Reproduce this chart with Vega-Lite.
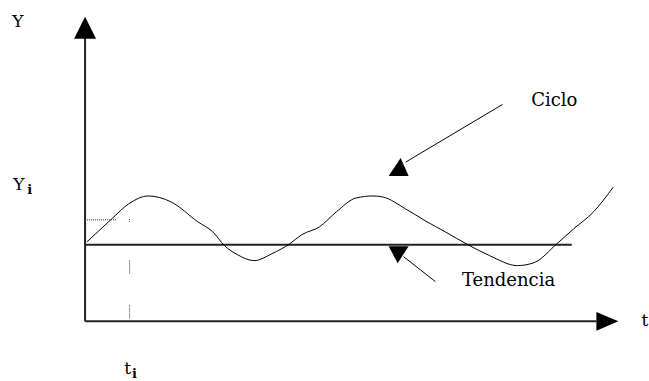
{
  "$schema": "https://vega.github.io/schema/vega-lite/v6.json",
  "width": 649,
  "height": 381,
  "autosize": {"type": "fit", "contains": "padding"},
  "padding": 0,
  "background": "white",
  "config": {"view": {"stroke": null}},
  "encoding": {
    "x": {"field": "t", "type": "quantitative", "scale": {"domain": [-86, 563], "nice": false, "zero": false}, "axis": null},
    "y": {"field": "Y", "type": "quantitative", "scale": {"domain": [-58, 323], "nice": false, "zero": false}, "axis": null}
  },
  "layer": [
    {
      "data": {"values": [
        {"t": 0, "Y": 0, "t2": 0, "Y2": 285},
        {"t": 0, "Y": 0, "t2": 517, "Y2": 0},
        {"t": 0, "Y": 77, "t2": 492, "Y2": 77}
      ]},
      "mark": {"type": "rule", "color": "#222222", "strokeWidth": 2},
      "encoding": {"x2": {"field": "t2"}, "y2": {"field": "Y2"}}
    },
    {
      "data": {"values": [
        {"t": 422, "Y": 218, "t2": 324, "Y2": 160},
        {"t": 354, "Y": 40, "t2": 322, "Y2": 65}
      ]},
      "mark": {"type": "rule", "color": "#000000", "strokeWidth": 1},
      "encoding": {"x2": {"field": "t2"}, "y2": {"field": "Y2"}}
    },
    {
      "data": {"values": [
        {"t": 2, "Y": 102, "t2": 32, "Y2": 102},
        {"t": 45, "Y": 100, "t2": 45, "Y2": 104},
        {"t": 45, "Y": 61, "t2": 45, "Y2": 48},
        {"t": 45, "Y": 16, "t2": 45, "Y2": 3}
      ]},
      "mark": {"type": "rule", "color": "#333333", "strokeWidth": 1, "strokeDash": [1, 1]},
      "encoding": {"x2": {"field": "t2"}, "y2": {"field": "Y2"}}
    },
    {
      "data": {"values": [
        {"t": 2, "Y": 80}, {"t": 14, "Y": 91}, {"t": 27, "Y": 103}, {"t": 44, "Y": 118},
        {"t": 64, "Y": 126}, {"t": 87, "Y": 120}, {"t": 114, "Y": 100}, {"t": 129, "Y": 90},
        {"t": 141, "Y": 76}, {"t": 154, "Y": 67}, {"t": 171, "Y": 61}, {"t": 189, "Y": 68},
        {"t": 207, "Y": 78}, {"t": 219, "Y": 87}, {"t": 237, "Y": 95}, {"t": 254, "Y": 110},
        {"t": 274, "Y": 124}, {"t": 291, "Y": 126}, {"t": 301, "Y": 125}, {"t": 324, "Y": 113},
        {"t": 344, "Y": 101}, {"t": 364, "Y": 90}, {"t": 387, "Y": 77}, {"t": 409, "Y": 66},
        {"t": 437, "Y": 56}, {"t": 454, "Y": 59}, {"t": 477, "Y": 78}, {"t": 494, "Y": 93},
        {"t": 514, "Y": 110}, {"t": 534, "Y": 135}
      ]},
      "mark": {"type": "line", "color": "#000000", "strokeWidth": 1, "interpolate": "monotone"},
      "encoding": {}
    },
    {
      "data": {"values": [{"t": 0, "Y": 295}]},
      "mark": {"type": "point", "shape": "M0,-1L1,1L-1,1Z", "size": 484, "filled": true, "color": "#000000", "opacity": 1},
      "encoding": {}
    },
    {
      "data": {"values": [{"t": 528, "Y": 0}]},
      "mark": {"type": "point", "shape": "M1,0L-1,-0.85L-1,0.85Z", "size": 484, "filled": true, "color": "#000000", "opacity": 1},
      "encoding": {}
    },
    {
      "data": {"values": [{"t": 317, "Y": 155}]},
      "mark": {"type": "point", "shape": "M0.2,-0.9L1,0.9L-1,0.9Z", "size": 400, "filled": true, "color": "#000000", "opacity": 1},
      "encoding": {}
    },
    {
      "data": {"values": [{"t": 317, "Y": 67}]},
      "mark": {"type": "point", "shape": "M-1,-0.85L1,-0.85L-0.1,0.85Z", "size": 400, "filled": true, "color": "#000000", "opacity": 1},
      "encoding": {}
    },
    {
      "data": {"values": [
        {"t": -68, "Y": 301, "label": "Y"},
        {"t": -67, "Y": 137, "label": "Y"},
        {"t": 43, "Y": -48, "label": "t"},
        {"t": 566, "Y": 0, "label": "t"}
      ]},
      "mark": {"type": "text", "font": "DejaVu Serif", "fontSize": 17, "color": "#000000", "align": "center", "baseline": "middle"},
      "encoding": {"text": {"field": "label"}}
    },
    {
      "data": {"values": [
        {"t": -56, "Y": 132, "label": "i"},
        {"t": 50, "Y": -53, "label": "i"}
      ]},
      "mark": {"type": "text", "font": "DejaVu Serif", "fontSize": 13, "fontWeight": "bold", "color": "#000000", "align": "center", "baseline": "middle"},
      "encoding": {"text": {"field": "label"}}
    },
    {
      "data": {"values": [
        {"t": 451, "Y": 221, "label": "Ciclo"},
        {"t": 381, "Y": 41, "label": "Tendencia"}
      ]},
      "mark": {"type": "text", "font": "DejaVu Serif", "fontSize": 18, "color": "#000000", "align": "left", "baseline": "middle"},
      "encoding": {"text": {"field": "label"}}
    }
  ]
}
